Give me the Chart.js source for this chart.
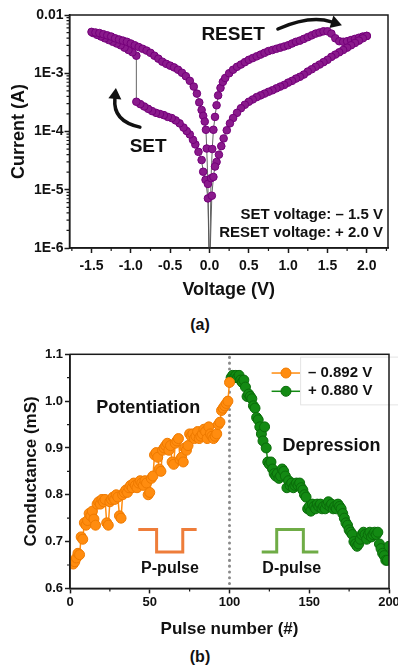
<!DOCTYPE html>
<html>
<head>
<meta charset="utf-8">
<script src="https://cdn.jsdelivr.net/npm/chart.js@4"></script>
<style>
  html, body { margin: 0; padding: 0; background: #fff; }
  #page { position: relative; width: 398px; height: 668px; overflow: hidden;
          font-family: 'Liberation Sans', Arial, sans-serif; }
  canvas { position: absolute; left: 0; }
  #ivChart { top: 0; }
  #pulseChart { top: 330px; }
  .cap { position: absolute; left: 0; width: 400px; text-align: center;
         font-weight: bold; font-size: 16px; color: #111; line-height: 18px; }
</style>
</head>
<body>
<div id="page">
  <canvas id="ivChart" width="398" height="312"></canvas>
  <div class="cap" style="top:316px">(a)</div>
  <canvas id="pulseChart" width="420" height="315"></canvas>
  <div class="cap" style="top:648px">(b)</div>
</div>
<script>
'use strict';

// ── (a) I–V sweep ────────────────────────────────────────
// 0 → -0.93 V, high-resistance state
const V_HRS_NEG = [0, -0.02, -0.05, -0.08, -0.10, -0.14, -0.18, -0.21, -0.25, -0.29, -0.33, -0.38,
                   -0.43, -0.48, -0.53, -0.58, -0.63, -0.68, -0.73, -0.78, -0.83, -0.88, -0.93];
const I_HRS_NEG = [3.2e-7, 7.1e-6, 1.48e-5, 2.04e-5, 3.24e-5, 4.47e-5, 6.0e-5, 7.2e-5, 8.9e-5, 1.02e-4,
                   1.17e-4, 1.38e-4, 1.55e-4, 1.70e-4, 1.78e-4, 1.91e-4, 2.0e-4, 2.09e-4, 2.24e-4,
                   2.45e-4, 2.69e-4, 2.95e-4, 3.24e-4];
// after SET, -0.93 → -1.5 V
const V_SET = [-0.93, -0.98, -1.03, -1.08, -1.13, -1.18, -1.23, -1.28, -1.33, -1.38, -1.43, -1.48];
const I_SET = [2.0e-3, 2.29e-3, 2.51e-3, 2.75e-3, 3.02e-3, 3.24e-3, 3.47e-3, 3.72e-3, 3.98e-3,
               4.27e-3, 4.57e-3, 4.9e-3];
// -1.5 → 0 V, low-resistance state
const V_LRS_NEG = [-1.5, -1.45, -1.4, -1.35, -1.3, -1.25, -1.2, -1.15, -1.1, -1.05, -1.0, -0.95, -0.9,
                   -0.85, -0.8, -0.75, -0.7, -0.65, -0.6, -0.55, -0.5, -0.45, -0.4, -0.35, -0.3, -0.25,
                   -0.2, -0.16, -0.13, -0.1, -0.08, -0.06, -0.045, -0.035, -0.02, 0];
const I_LRS_NEG = [5.13e-3, 5.01e-3, 4.9e-3, 4.68e-3, 4.47e-3, 4.27e-3, 3.98e-3, 3.8e-3, 3.63e-3,
                   3.47e-3, 3.24e-3, 3.02e-3, 2.82e-3, 2.63e-3, 2.45e-3, 2.24e-3, 2.0e-3, 1.78e-3,
                   1.58e-3, 1.45e-3, 1.35e-3, 1.26e-3, 1.15e-3, 1.02e-3, 8.9e-4, 7.4e-4, 5.9e-4,
                   4.47e-4, 3.16e-4, 2.34e-4, 1.86e-4, 1.48e-4, 1.07e-4, 5.1e-5, 1.26e-5, 3.2e-7];
// 0 → 2.0 V, low-resistance state up to RESET
const V_LRS_POS = [0, 0.02, 0.035, 0.05, 0.07, 0.09, 0.11, 0.14, 0.17, 0.2, 0.25, 0.3, 0.35, 0.4, 0.45,
                   0.5, 0.55, 0.6, 0.65, 0.7, 0.75, 0.8, 0.85, 0.9, 0.95, 1.0, 1.05, 1.1, 1.15, 1.2,
                   1.25, 1.3, 1.35, 1.4, 1.45, 1.5, 1.55, 1.6, 1.65, 1.7, 1.75, 1.8, 1.85, 1.9, 1.95, 2.0];
const I_LRS_POS = [3.2e-7, 1.58e-5, 5.0e-5, 1.07e-4, 1.78e-4, 2.82e-4, 4.17e-4, 5.6e-4, 7.1e-4, 8.3e-4,
                   1.0e-3, 1.15e-3, 1.29e-3, 1.41e-3, 1.55e-3, 1.7e-3, 1.82e-3, 1.95e-3, 2.09e-3,
                   2.24e-3, 2.4e-3, 2.51e-3, 2.63e-3, 2.75e-3, 2.88e-3, 3.02e-3, 3.24e-3, 3.47e-3,
                   3.63e-3, 3.89e-3, 4.17e-3, 4.47e-3, 4.79e-3, 5.01e-3, 5.25e-3, 5.25e-3, 4.79e-3,
                   3.98e-3, 3.55e-3, 3.47e-3, 3.55e-3, 3.72e-3, 3.89e-3, 4.07e-3, 4.27e-3, 4.37e-3];
// 2.0 → 0 V, back in high-resistance state
const V_HRS_POS = [2.0, 1.95, 1.9, 1.85, 1.8, 1.75, 1.7, 1.65, 1.6, 1.55, 1.5, 1.45, 1.4, 1.35, 1.3,
                   1.25, 1.2, 1.15, 1.1, 1.05, 1.0, 0.95, 0.9, 0.85, 0.8, 0.75, 0.7, 0.65, 0.6, 0.55,
                   0.5, 0.45, 0.4, 0.35, 0.3, 0.26, 0.22, 0.18, 0.15, 0.12, 0.09, 0.07, 0.05, 0.03, 0];
const I_HRS_POS = [4.37e-3, 3.98e-3, 3.63e-3, 3.31e-3, 3.02e-3, 2.75e-3, 2.51e-3, 2.29e-3, 2.09e-3,
                   1.91e-3, 1.7e-3, 1.55e-3, 1.41e-3, 1.29e-3, 1.17e-3, 1.07e-3, 9.5e-4, 8.7e-4,
                   8.1e-4, 7.4e-4, 6.9e-4, 6.3e-4, 5.9e-4, 5.5e-4, 5.1e-4, 4.8e-4, 4.47e-4, 4.17e-4,
                   3.89e-4, 3.55e-4, 3.24e-4, 2.88e-4, 2.51e-4, 2.09e-4, 1.7e-4, 1.38e-4, 1.05e-4,
                   7.6e-5, 5.6e-5, 4.0e-5, 3.0e-5, 2.5e-5, 1.66e-5, 7.9e-6, 3.2e-7];

const V_TICKS = [-1.5, -1.0, -0.5, 0, 0.5, 1.0, 1.5, 2.0];
const I_TICKS = [1e-6, 1e-5, 1e-4, 1e-3, 1e-2];
const I_TICK_LABELS = ['1E-6', '1E-5', '1E-4', '1E-3', '0.01'];

// ── (b) conductance vs pulse number ──────────────────────
const G_POT = [0.655, 0.652, 0.657, 0.665, 0.675, 0.672, 0.71, 0.705, 0.74, 0.735,
               0.745, 0.76, 0.755, 0.765, 0.748, 0.735, 0.78, 0.785, 0.78, 0.79,
               0.785, 0.79, 0.74, 0.735, 0.785, 0.79, 0.795, 0.79, 0.80, 0.795,
               0.755, 0.75, 0.80, 0.805, 0.81, 0.805, 0.815, 0.82, 0.815, 0.825,
               0.82, 0.815, 0.825, 0.83, 0.825, 0.82, 0.83, 0.825, 0.80, 0.805,
               0.835, 0.84, 0.885, 0.89, 0.88, 0.855, 0.85, 0.895, 0.90, 0.905,
               0.91, 0.895, 0.905, 0.87, 0.865, 0.91, 0.915, 0.92, 0.875, 0.88,
               0.87, 0.90, 0.895, 0.905, 0.93, 0.925, 0.93, 0.92, 0.925, 0.935,
               0.92, 0.925, 0.93, 0.94, 0.935, 0.92, 0.945, 0.93, 0.925, 0.92,
               0.925, 0.93, 0.95, 0.955, 0.98, 0.985, 0.99, 0.995, 1.0, 1.04];
const G_DEP = [1.05, 1.055, 1.05, 1.055, 1.05, 1.055, 1.045, 1.04, 1.045, 1.03,
               1.01, 1.015, 1.01, 1.005, 0.99, 0.985, 0.965, 0.96, 0.945, 0.93,
               0.915, 0.945, 0.90, 0.87, 0.865, 0.87, 0.855, 0.845, 0.84, 0.845,
               0.835, 0.84, 0.855, 0.85, 0.84, 0.815, 0.83, 0.82, 0.825, 0.815,
               0.82, 0.825, 0.82, 0.825, 0.815, 0.81, 0.80, 0.795, 0.77, 0.775,
               0.765, 0.78, 0.775, 0.77, 0.78, 0.775, 0.78, 0.77, 0.775, 0.77,
               0.78, 0.785, 0.775, 0.78, 0.77, 0.775, 0.77, 0.78, 0.775, 0.77,
               0.76, 0.75, 0.74, 0.735, 0.725, 0.72, 0.715, 0.70, 0.695, 0.69,
               0.695, 0.705, 0.715, 0.72, 0.715, 0.705, 0.715, 0.72, 0.71, 0.715,
               0.72, 0.715, 0.72, 0.695, 0.685, 0.675, 0.67, 0.66, 0.66, 0.69];
const SERIES_LABELS = ['– 0.892 V', '+ 0.880 V'];
const PULSE_TICKS = [0, 50, 100, 150, 200];
const G_TICKS = [0.6, 0.7, 0.8, 0.9, 1.0, 1.1];

// ── Styling ──────────────────────────────────────────────
const FONT = "'Liberation Sans', Arial, sans-serif";
const C = {
  ink:       '#111111',
  axis:      '#1a1a1a',
  purple:    '#8a1a8c',
  purpleEdge:'#74007a',
  link:      '#555555',
  orange:    '#ff8c0f',
  orangeEdge:'#ef7a00',
  green:     '#138a13',
  greenEdge: '#0a6c0a',
  pPulse:    '#ee7d3a',
  dPulse:    '#6fac46',
  dots:      '#8a8a8a',
};
Chart.defaults.font.family = FONT;
Chart.defaults.color = C.ink;

// ── Shared plugins ───────────────────────────────────────
const frame = {
  id: 'frame',
  afterDraw(chart) {
    const { ctx, chartArea: a } = chart;
    ctx.save();
    ctx.strokeStyle = C.axis;
    ctx.lineWidth = 1.5;
    ctx.strokeRect(a.left, a.top, a.right - a.left, a.bottom - a.top);
    ctx.restore();
  }
};

const minorTicks = {
  id: 'minorTicks',
  afterDraw(chart, args, opts) {
    const { ctx, chartArea: a, scales: { x, y } } = chart;
    ctx.save();
    ctx.strokeStyle = C.axis;
    ctx.lineWidth = 1.2;
    ctx.beginPath();
    (opts.x || []).forEach(v => {
      const p = x.getPixelForValue(v);
      ctx.moveTo(p, a.bottom); ctx.lineTo(p, a.bottom + 3);
    });
    (opts.y || []).forEach(v => {
      const p = y.getPixelForValue(v);
      ctx.moveTo(a.left, p); ctx.lineTo(a.left - 3, p);
    });
    ctx.stroke();
    ctx.restore();
  }
};

function arrow(ctx, [x0, y0], [cx, cy], [x1, y1]) {
  const ang = Math.atan2(y1 - cy, x1 - cx);
  const hl = 11, hw = 6.5;
  const bx = x1 - hl * Math.cos(ang), by = y1 - hl * Math.sin(ang);
  ctx.strokeStyle = C.ink; ctx.fillStyle = C.ink;
  ctx.lineWidth = 3.5; ctx.lineCap = 'round';
  ctx.beginPath(); ctx.moveTo(x0, y0); ctx.quadraticCurveTo(cx, cy, bx, by); ctx.stroke();
  ctx.beginPath();
  ctx.moveTo(x1, y1);
  ctx.lineTo(bx + hw * Math.sin(ang), by - hw * Math.cos(ang));
  ctx.lineTo(bx - hw * Math.sin(ang), by + hw * Math.cos(ang));
  ctx.closePath(); ctx.fill();
}

const tickFont = size => ({ family: FONT, size, weight: 'bold' });
const axisBase = {
  grid: { drawOnChartArea: false, drawTicks: true, tickLength: 5, tickColor: C.axis, tickWidth: 1.5 },
  border: { color: C.axis, width: 1.5 },
};

// ── (a) I–V chart ────────────────────────────────────────
const ivNotes = {
  id: 'ivNotes',
  afterDraw(chart) {
    const { ctx, chartArea: a, scales: { x, y } } = chart;
    const P = (v, i) => [x.getPixelForValue(v), y.getPixelForValue(i)];
    ctx.save();
    ctx.fillStyle = C.ink;
    ctx.textAlign = 'center';
    ctx.textBaseline = 'middle';
    ctx.font = `bold 19px ${FONT}`;
    ctx.fillText('RESET', ...P(0.30, 4.5e-3));
    ctx.fillText('SET', ...P(-0.78, 5.5e-5));
    arrow(ctx, P(-0.885, 1.19e-4), P(-1.23, 1.5e-4), P(-1.19, 5.6e-4));
    arrow(ctx, P(0.87, 5.75e-3), P(1.277, 1e-2), P(1.684, 6.7e-3));
    ctx.font = `bold 15px ${FONT}`;
    ctx.textAlign = 'right';
    ctx.fillText('SET voltage: – 1.5 V', a.right - 5, a.bottom - 33);
    ctx.fillText('RESET voltage: + 2.0 V', a.right - 5, a.bottom - 15);
    ctx.restore();
  }
};

const SWEEP = [
  [V_HRS_NEG, I_HRS_NEG], [V_SET, I_SET], [V_LRS_NEG, I_LRS_NEG],
  [V_LRS_POS, I_LRS_POS], [V_HRS_POS, I_HRS_POS],
];
const ivPoints = SWEEP.flatMap(([vs, is]) => vs.map((v, k) => ({ x: v, y: is[k] })));

const minorDecades = [];
I_TICKS.slice(0, -1).forEach(d => { for (let m = 2; m <= 9; m++) minorDecades.push(d * m); });

new Chart(document.getElementById('ivChart'), {
  type: 'scatter',
  data: {
    datasets: [{
      data: ivPoints,
      showLine: true,
      borderColor: C.link,
      borderWidth: 0.9,
      pointRadius: 3.8,
      pointBackgroundColor: C.purple,
      pointBorderColor: C.purpleEdge,
      pointBorderWidth: 1,
      tension: 0,
    }]
  },
  options: {
    responsive: false, animation: false,
    layout: { padding: { top: 15, right: 10, left: 0, bottom: 0 } },
    plugins: {
      legend: { display: false }, tooltip: { enabled: false },
      minorTicks: { x: [-1.75, -1.25, -0.75, -0.25, 0.25, 0.75, 1.25, 1.75, 2.25], y: minorDecades },
    },
    scales: {
      x: {
        ...axisBase, type: 'linear', min: -1.78, max: 2.27,
        afterBuildTicks: s => { s.ticks = V_TICKS.map(v => ({ value: v })); },
        afterFit: s => { s.height = 64; },
        ticks: { font: tickFont(14), color: C.ink, padding: 5, maxRotation: 0,
                 callback: v => v.toFixed(1) },
        title: { display: true, text: 'Voltage (V)', font: tickFont(18), color: C.ink,
                 padding: { top: 0, bottom: 11 } },
      },
      y: {
        ...axisBase, type: 'logarithmic', min: 1e-6, max: 1e-2,
        afterBuildTicks: s => { s.ticks = I_TICKS.map(v => ({ value: v })); },
        afterFit: s => { s.width = 69.5; },
        ticks: { font: tickFont(14), color: C.ink, padding: 1,
                 callback: (v, i) => I_TICK_LABELS[i] },
        title: { display: true, text: 'Current (A)', font: tickFont(18), color: C.ink,
                 padding: { top: 8, bottom: 0 } },
      },
    }
  },
  plugins: [minorTicks, ivNotes, frame],
});

// ── (b) pulse chart ──────────────────────────────────────
const pulseNotes = {
  id: 'pulseNotes',
  beforeDatasetsDraw(chart) {
    const { ctx, chartArea: a, scales: { x } } = chart;
    const px = x.getPixelForValue(100);
    ctx.save();
    ctx.strokeStyle = C.dots;
    ctx.lineWidth = 3;
    ctx.lineCap = 'round';
    ctx.setLineDash([0.1, 5.7]);
    ctx.beginPath(); ctx.moveTo(px, a.top + 3); ctx.lineTo(px, a.bottom); ctx.stroke();
    ctx.restore();
  },
  afterDraw(chart) {
    const { ctx, scales: { x, y } } = chart;
    const P = (n, g) => [x.getPixelForValue(n), y.getPixelForValue(g)];
    const wave = (pts, color) => {
      ctx.strokeStyle = color; ctx.lineWidth = 3; ctx.lineJoin = 'miter';
      ctx.beginPath();
      pts.forEach((p, k) => { const [u, w] = P(...p); k ? ctx.lineTo(u, w) : ctx.moveTo(u, w); });
      ctx.stroke();
    };
    ctx.save();
    wave([[42.8, 0.726], [54.3, 0.726], [54.3, 0.678], [70.7, 0.678], [70.7, 0.726], [79.4, 0.726]], C.pPulse);
    wave([[120.2, 0.678], [129.6, 0.678], [129.6, 0.726], [146.3, 0.726], [146.3, 0.678], [155.7, 0.678]], C.dPulse);

    ctx.fillStyle = C.ink;
    ctx.textAlign = 'center';
    ctx.textBaseline = 'middle';
    ctx.font = `bold 18px ${FONT}`;
    ctx.fillText('Potentiation', ...P(49, 0.985));
    ctx.fillText('Depression', ...P(164, 0.904));
    ctx.font = `bold 16px ${FONT}`;
    ctx.fillText('P-pulse', ...P(62.7, 0.643));
    ctx.fillText('D-pulse', ...P(139, 0.643));

    // legend
    const [bx0, by0] = P(144.6, 1.094);
    const [bx1, by1] = P(207, 0.992);
    ctx.strokeStyle = '#e4e4e4'; ctx.lineWidth = 1;
    ctx.strokeRect(bx0, by0, bx1 - bx0, by1 - by0);
    const rows = [[1.06, C.orange, C.orangeEdge], [1.021, C.green, C.greenEdge]];
    ctx.font = `bold 15px ${FONT}`;
    ctx.textAlign = 'left';
    rows.forEach(([g, fill, edge], k) => {
      const [lx0, ly] = P(126.4, g);
      const [lx1] = P(144.2, g);
      const [mx] = P(135.4, g);
      const [tx] = P(149.2, g);
      ctx.strokeStyle = fill; ctx.lineWidth = 1.5;
      ctx.beginPath(); ctx.moveTo(lx0, ly); ctx.lineTo(lx1, ly); ctx.stroke();
      ctx.fillStyle = fill; ctx.strokeStyle = edge; ctx.lineWidth = 1;
      ctx.beginPath(); ctx.arc(mx, ly, 5, 0, Math.PI * 2); ctx.fill(); ctx.stroke();
      ctx.fillStyle = C.ink;
      ctx.fillText(SERIES_LABELS[k], tx, ly);
    });
    ctx.restore();
  }
};

const potPoints = G_POT.map((g, k) => ({ x: k + 1, y: g }));
const depPoints = G_DEP.map((g, k) => ({ x: k + 1 + G_POT.length, y: g }));
const series = (label, data, fill, edge) => ({
  label, data, showLine: true,
  borderColor: fill, borderWidth: 1.5,
  pointRadius: 5, pointBackgroundColor: fill, pointBorderColor: edge, pointBorderWidth: 1,
  tension: 0,
});

new Chart(document.getElementById('pulseChart'), {
  type: 'scatter',
  data: {
    datasets: [
      series(SERIES_LABELS[0], potPoints, C.orange, C.orangeEdge),
      series(SERIES_LABELS[1], depPoints, C.green, C.greenEdge),
    ]
  },
  options: {
    responsive: false, animation: false,
    layout: { padding: { top: 24.3, right: 31, left: 0, bottom: 0 } },
    plugins: {
      legend: { display: false }, tooltip: { enabled: false },
      minorTicks: { x: [25, 75, 125, 175], y: [0.65, 0.75, 0.85, 0.95, 1.05] },
    },
    scales: {
      x: {
        ...axisBase, type: 'linear', min: 0, max: 200,
        afterBuildTicks: s => { s.ticks = PULSE_TICKS.map(v => ({ value: v })); },
        afterFit: s => { s.height = 56.6; },
        ticks: { font: tickFont(13), color: C.ink, padding: 1, maxRotation: 0 },
        title: { display: true, text: 'Pulse number (#)', font: tickFont(17), color: C.ink,
                 padding: { top: 0, bottom: 5 } },
      },
      y: {
        ...axisBase, type: 'linear', min: 0.6, max: 1.1,
        afterBuildTicks: s => { s.ticks = G_TICKS.map(v => ({ value: v })); },
        afterFit: s => { s.width = 70; },
        ticks: { font: tickFont(13), color: C.ink, padding: 2, callback: v => v.toFixed(1) },
        title: { display: true, text: 'Conductance (mS)', font: tickFont(17), color: C.ink,
                 padding: { top: 21, bottom: 0 } },
      },
    }
  },
  plugins: [minorTicks, pulseNotes, frame],
});
</script>
</body>
</html>
